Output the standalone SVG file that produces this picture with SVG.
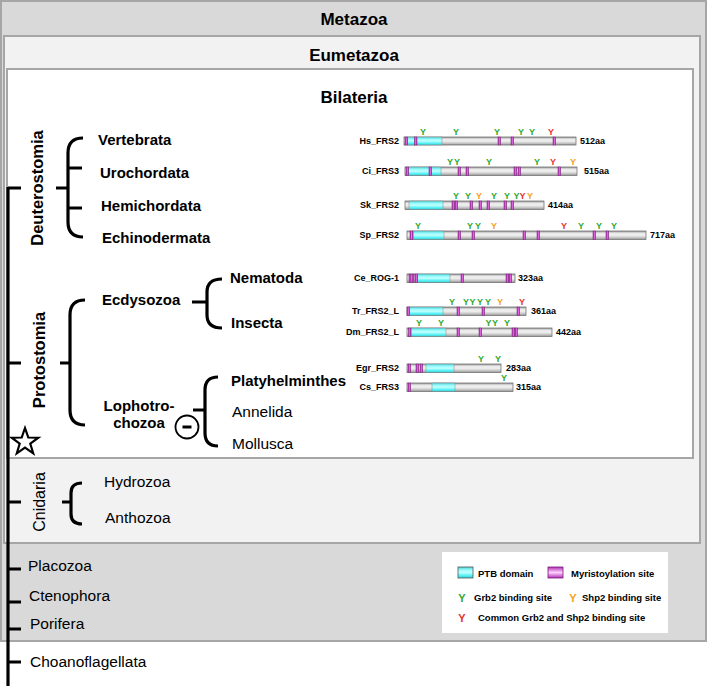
<svg xmlns="http://www.w3.org/2000/svg" width="708" height="686" viewBox="0 0 708 686">
<defs>
<linearGradient id="gGrey" x1="0" y1="0" x2="0" y2="1">
<stop offset="0" stop-color="#8e8e8e"/><stop offset="0.25" stop-color="#e8e8e8"/><stop offset="0.5" stop-color="#f0f0f0"/><stop offset="0.8" stop-color="#c2c2c2"/><stop offset="1" stop-color="#8e8e8e"/>
</linearGradient>
<linearGradient id="gCyan" x1="0" y1="0" x2="0" y2="1">
<stop offset="0" stop-color="#48d8e0"/><stop offset="0.3" stop-color="#a0fcfc"/><stop offset="0.5" stop-color="#c0ffff"/><stop offset="0.8" stop-color="#50f0f4"/><stop offset="1" stop-color="#38c8d0"/>
</linearGradient>
<linearGradient id="gMag" x1="0" y1="0" x2="1" y2="0">
<stop offset="0" stop-color="#9a209a"/><stop offset="0.5" stop-color="#f070f0"/><stop offset="1" stop-color="#9a209a"/>
</linearGradient>
<linearGradient id="gMagV" x1="0" y1="0" x2="0" y2="1">
<stop offset="0" stop-color="#b030b0"/><stop offset="0.5" stop-color="#ffd0ff"/><stop offset="1" stop-color="#b030b0"/>
</linearGradient>
</defs>
<style>
.t{font-family:"Liberation Sans",Arial,sans-serif;fill:#000}
.hdr{font-size:17px;font-weight:bold;text-anchor:middle}
.b{font-size:15px;font-weight:bold}
.n{font-size:15.5px}
.rot{font-size:16.5px;font-weight:bold;text-anchor:middle}
.rotn{font-size:16px;text-anchor:middle}
.pn{font-size:9px;font-weight:bold;text-anchor:end}
.aa{font-size:9px;font-weight:bold}
.y{font-family:"Liberation Sans",Arial,sans-serif;font-size:9px;font-weight:bold;text-anchor:middle}
.ly{font-family:"Liberation Sans",Arial,sans-serif;font-size:11px;font-weight:bold;text-anchor:middle}
.lg{font-size:9.5px;font-weight:bold}
.g{fill:#2ea82e}.o{fill:#f5a020}.r{fill:#e63030}
.bar{fill:url(#gGrey);stroke:#777;stroke-width:0.8}
.ptb{fill:url(#gCyan);stroke:#888;stroke-width:0.5}
.my{fill:url(#gMag);stroke:#7a1a7a;stroke-width:0.5}
.br{fill:none;stroke:#000;stroke-width:3.2}
.box{stroke:#a6a6a6;stroke-width:2}
</style>

<!-- clade boxes -->
<g id="Metazoa">
<rect class="box" x="1" y="1" width="705" height="640" fill="#d9d9d9"/>
<text class="t hdr" x="354" y="25">Metazoa</text>
</g>
<g id="Eumetazoa">
<rect class="box" x="4" y="36" width="696" height="507" fill="#f2f2f2"/>
<text class="t hdr" x="354" y="61">Eumetazoa</text>
</g>
<g id="Bilateria">
<rect class="box" x="7" y="69" width="686" height="389" fill="#ffffff"/>
<text class="t hdr" x="354" y="103">Bilateria</text>
</g>

<!-- connectors -->
<g id="connectors">
<path class="br" d="M8,187 V686"/>
<path class="br" d="M8,188 H21 M8,363 H21 M8,502 H21 M8,569 H21 M8,602 H21 M8,629 H21 M8,662 H21"/>
<path class="br" d="M83,138 Q68,138 68,153 V222 Q68,237 83,237 M56,188 H68 M68,168 H82 M68,208 H82"/>
<path class="br" d="M85,300 Q70,300 70,315 V410 Q70,425 85,425 M60,363 H70"/>
<path class="br" d="M222,279 Q207,279 207,292 V315 Q207,328 222,328 M192,302 H207"/>
<path class="br" d="M218,377 Q205,377 205,390 V433 Q205,446 218,446 M193,410 H205"/>
<path class="br" d="M82,483 Q71,483 71,493 V514 Q71,524 82,524 M62,502 H71"/>
</g>

<!-- taxa -->
<g id="Deuterostomia"><text class="t rot" transform="translate(43,188) rotate(-90)">Deuterostomia</text></g>
<g id="Vertebrata"><text class="t b" x="98" y="145">Vertebrata</text></g>
<g id="Urochordata"><text class="t b" x="100" y="178">Urochordata</text></g>
<g id="Hemichordata"><text class="t b" x="101" y="211">Hemichordata</text></g>
<g id="Echinodermata"><text class="t b" x="102" y="243">Echinodermata</text></g>
<g id="Protostomia"><text class="t rot" transform="translate(45,360) rotate(-90)">Protostomia</text></g>
<g id="Ecdysozoa"><text class="t b" x="102" y="305">Ecdysozoa</text></g>
<g id="Nematoda"><text class="t b" x="230" y="283">Nematoda</text></g>
<g id="Insecta"><text class="t b" x="231" y="328">Insecta</text></g>
<g id="Lophotrochozoa"><text class="t b" x="139" y="411" text-anchor="middle">Lophotro-</text><text class="t b" x="139" y="428" text-anchor="middle">chozoa</text></g>
<g id="loss">
<circle cx="187" cy="427" r="11.5" fill="none" stroke="#000" stroke-width="1.8"/>
<path d="M182.5,427 H191.5" stroke="#000" stroke-width="3"/>
</g>
<g id="Platyhelminthes"><text class="t b" x="231" y="386">Platyhelminthes</text></g>
<g id="Annelida"><text class="t n" x="232" y="417">Annelida</text></g>
<g id="Mollusca"><text class="t n" x="232" y="449">Mollusca</text></g>
<g id="star">
<polygon points="25,428 28.3,437.5 38.3,437.7 30.3,443.7 33.2,453.3 25,447.6 16.8,453.3 19.7,443.7 11.7,437.7 21.7,437.5" fill="#fff" stroke="#000" stroke-width="2.2" stroke-linejoin="miter"/>
</g>
<g id="Cnidaria"><text class="t rotn" transform="translate(45,502) rotate(-90)">Cnidaria</text></g>
<g id="Hydrozoa"><text class="t n" x="104" y="487">Hydrozoa</text></g>
<g id="Anthozoa"><text class="t n" x="105" y="523">Anthozoa</text></g>
<g id="Placozoa"><text class="t n" x="28" y="571">Placozoa</text></g>
<g id="Ctenophora"><text class="t n" x="29" y="601">Ctenophora</text></g>
<g id="Porifera"><text class="t n" x="30" y="629">Porifera</text></g>
<g id="Choanoflagellata"><text class="t n" x="30" y="667">Choanoflagellata</text></g>

<!-- proteins -->
<g id="Hs_FRS2">
<text class="t pn" x="399" y="144">Hs_FRS2</text>
<rect class="bar" x="404" y="137" width="172" height="8"/>
<rect class="ptb" x="407" y="137" width="35" height="8"/>
<rect class="my" x="405" y="137" width="2.5" height="8"/><rect class="my" x="414.5" y="137" width="2.5" height="8"/><rect class="my" x="498" y="137" width="2.5" height="8"/><rect class="my" x="511" y="137" width="2.5" height="8"/><rect class="my" x="553" y="137" width="2.5" height="8"/>
<text class="y g" x="423" y="135">Y</text><text class="y g" x="456" y="135">Y</text><text class="y g" x="497" y="135">Y</text><text class="y g" x="521" y="135">Y</text><text class="y g" x="532" y="135">Y</text><text class="y r" x="551" y="135">Y</text>
<text class="t aa" x="580" y="144">512aa</text>
</g>
<g id="Ci_FRS3">
<text class="t pn" x="399" y="174">Ci_FRS3</text>
<rect class="bar" x="405" y="167" width="172" height="8.5"/>
<rect class="ptb" x="408" y="167" width="33" height="8.5"/>
<rect class="my" x="406" y="167" width="2.5" height="8.5"/><rect class="my" x="429" y="167" width="2.5" height="8.5"/><rect class="my" x="458" y="167" width="2.5" height="8.5"/><rect class="my" x="466" y="167" width="2.5" height="8.5"/><rect class="my" x="514" y="167" width="2.5" height="8.5"/><rect class="my" x="518" y="167" width="2.5" height="8.5"/><rect class="my" x="558" y="167" width="2.5" height="8.5"/>
<text class="y g" x="450" y="165">Y</text><text class="y g" x="457" y="165">Y</text><text class="y g" x="489" y="165">Y</text><text class="y g" x="537" y="165">Y</text><text class="y r" x="553" y="165">Y</text><text class="y o" x="573" y="165">Y</text>
<text class="t aa" x="584" y="174">515aa</text>
</g>
<g id="Sk_FRS2">
<text class="t pn" x="399" y="208">Sk_FRS2</text>
<rect class="bar" x="405" y="201" width="139" height="8.5"/>
<rect class="ptb" x="409" y="201" width="34" height="8.5"/>
<rect class="my" x="452" y="201" width="2.5" height="8.5"/><rect class="my" x="455" y="201" width="2.5" height="8.5"/><rect class="my" x="470" y="201" width="2.5" height="8.5"/><rect class="my" x="479" y="201" width="2.5" height="8.5"/><rect class="my" x="487" y="201" width="2.5" height="8.5"/><rect class="my" x="504" y="201" width="2.5" height="8.5"/><rect class="my" x="511" y="201" width="2.5" height="8.5"/>
<text class="y g" x="456" y="199">Y</text><text class="y g" x="468" y="199">Y</text><text class="y o" x="479" y="199">Y</text><text class="y g" x="494" y="199">Y</text><text class="y g" x="507" y="199">Y</text><text class="y g" x="516.5" y="199">Y</text><text class="y r" x="522.5" y="199">Y</text><text class="y o" x="530" y="199">Y</text>
<text class="t aa" x="548" y="208">414aa</text>
</g>
<g id="Sp_FRS2">
<text class="t pn" x="399" y="238">Sp_FRS2</text>
<rect class="bar" x="407" y="231" width="239" height="8.5"/>
<rect class="ptb" x="413" y="231" width="31" height="8.5"/>
<rect class="my" x="410" y="231" width="3" height="8.5"/><rect class="my" x="458" y="231" width="2.5" height="8.5"/><rect class="my" x="472" y="231" width="2.5" height="8.5"/><rect class="my" x="523" y="231" width="2.5" height="8.5"/><rect class="my" x="537" y="231" width="2.5" height="8.5"/><rect class="my" x="593" y="231" width="2.5" height="8.5"/><rect class="my" x="606" y="231" width="2.5" height="8.5"/>
<text class="y g" x="418" y="229">Y</text><text class="y g" x="470" y="229">Y</text><text class="y g" x="478" y="229">Y</text><text class="y o" x="494" y="229">Y</text><text class="y r" x="564" y="229">Y</text><text class="y g" x="581" y="229">Y</text><text class="y g" x="599" y="229">Y</text><text class="y g" x="614" y="229">Y</text>
<text class="t aa" x="650" y="238">717aa</text>
</g>
<g id="Ce_ROG-1">
<text class="t pn" x="399" y="281">Ce_ROG-1</text>
<rect class="bar" x="407" y="274" width="108" height="8.5"/>
<rect class="ptb" x="417" y="274" width="33" height="8.5"/>
<rect class="my" x="409" y="274" width="2" height="8.5"/><rect class="my" x="412" y="274" width="2" height="8.5"/><rect class="my" x="415" y="274" width="2.5" height="8.5"/><rect class="my" x="461" y="274" width="2.5" height="8.5"/><rect class="my" x="506" y="274" width="2.5" height="8.5"/><rect class="my" x="509" y="274" width="2.5" height="8.5"/>
<text class="t aa" x="518" y="281">323aa</text>
</g>
<g id="Tr_FRS2_L">
<text class="t pn" x="399" y="314">Tr_FRS2_L</text>
<rect class="bar" x="407" y="307" width="119" height="8.5"/>
<rect class="ptb" x="409" y="307" width="34" height="8.5"/>
<rect class="my" x="407" y="307" width="2.5" height="8.5"/><rect class="my" x="457" y="307" width="2.5" height="8.5"/><rect class="my" x="482" y="307" width="2.5" height="8.5"/><rect class="my" x="517" y="307" width="2.5" height="8.5"/>
<text class="y g" x="452" y="305">Y</text><text class="y g" x="466" y="305">Y</text><text class="y g" x="472.5" y="305">Y</text><text class="y g" x="480" y="305">Y</text><text class="y g" x="488" y="305">Y</text><text class="y o" x="500" y="305">Y</text><text class="y r" x="522" y="305">Y</text>
<text class="t aa" x="531" y="314">361aa</text>
</g>
<g id="Dm_FRS2_L">
<text class="t pn" x="399" y="335">Dm_FRS2_L</text>
<rect class="bar" x="407" y="328" width="145" height="8.5"/>
<rect class="ptb" x="411" y="328" width="35" height="8.5"/>
<rect class="my" x="408.5" y="328" width="2.5" height="8.5"/><rect class="my" x="457" y="328" width="2.5" height="8.5"/><rect class="my" x="479" y="328" width="2.5" height="8.5"/><rect class="my" x="512" y="328" width="2.5" height="8.5"/><rect class="my" x="515" y="328" width="2.5" height="8.5"/>
<text class="y g" x="419" y="326">Y</text><text class="y g" x="441" y="326">Y</text><text class="y g" x="488.5" y="326">Y</text><text class="y g" x="495" y="326">Y</text><text class="y g" x="507" y="326">Y</text>
<text class="t aa" x="556" y="335">442aa</text>
</g>
<g id="Egr_FRS2">
<text class="t pn" x="399" y="371">Egr_FRS2</text>
<rect class="bar" x="407" y="364" width="94" height="8.5"/>
<rect class="ptb" x="426" y="364" width="28" height="8.5"/>
<rect class="my" x="408" y="364" width="2.5" height="8.5"/><rect class="my" x="416" y="364" width="2.5" height="8.5"/><rect class="my" x="420" y="364" width="2.5" height="8.5"/>
<text class="y g" x="481" y="362">Y</text><text class="y g" x="498" y="362">Y</text>
<text class="t aa" x="506" y="371">283aa</text>
</g>
<g id="Cs_FRS3">
<text class="t pn" x="399" y="390">Cs_FRS3</text>
<rect class="bar" x="407" y="383" width="106" height="8.5"/>
<rect class="ptb" x="432" y="383" width="23" height="8.5"/>
<rect class="my" x="408" y="383" width="2.5" height="8.5"/>
<text class="y g" x="504" y="381">Y</text>
<text class="t aa" x="516" y="390">315aa</text>
</g>

<!-- legend -->
<g id="legend">
<rect x="442" y="552" width="226" height="81" fill="#ffffff"/>
<rect x="458" y="567" width="15" height="11" fill="url(#gCyan)" stroke="#555" stroke-width="0.8"/>
<text class="t lg" x="478" y="577">PTB domain</text>
<rect x="548" y="567" width="15" height="11" fill="url(#gMagV)" stroke="#7a1a7a" stroke-width="0.8"/>
<text class="t lg" x="571" y="577">Myristoylation site</text>
<text class="ly g" x="462" y="602">Y</text>
<text class="t lg" x="474" y="601">Grb2 binding site</text>
<text class="ly o" x="573" y="602">Y</text>
<text class="t lg" x="582" y="601">Shp2 binding site</text>
<text class="ly r" x="462" y="622">Y</text>
<text class="t lg" x="478" y="621">Common Grb2 and Shp2 binding site</text>
</g>
</svg>
